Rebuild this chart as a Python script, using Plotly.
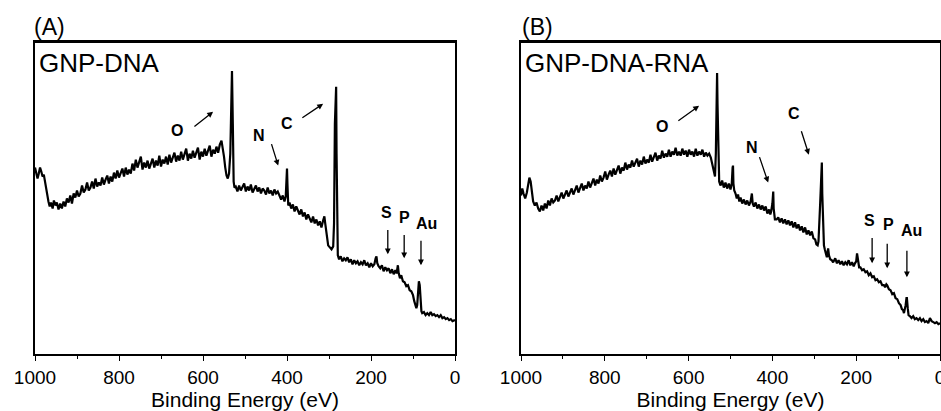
import plotly.graph_objects as go

# ---------------- Panel A : GNP-DNA  (binding energy eV, intensity a.u.) ----------------
spec_a = [
    (1000, 186), (997, 179), (994, 175), (991, 180), (988, 186), (985, 182), (982, 177), (979, 179),
    (976, 171), (972, 161), (968, 152), (965, 147), (962, 151), (958, 145), (955, 153), (951, 148),
    (948, 151), (944, 144), (940, 150), (936, 145), (932, 152), (928, 147),
    (924, 155), (920, 151), (916, 158), (912, 150), (908, 160), (904, 156), (900, 163), (896, 157),
    (892, 160), (888, 168), (884, 161), (880, 164), (876, 171), (872, 163), (868, 166), (864, 172),
    (860, 165), (856, 175), (852, 167), (848, 171), (844, 168), (840, 176), (836, 169), (832, 174),
    (828, 178), (824, 170), (820, 177), (816, 172), (812, 181), (808, 175), (804, 183), (800, 176),
    (796, 180), (792, 185), (788, 177), (784, 186), (780, 179), (776, 184), (772, 180), (768, 190),
    (764, 183), (760, 194), (756, 186), (752, 192), (748, 197), (744, 184), (740, 191), (736, 186),
    (732, 193), (728, 185), (724, 190), (720, 195), (716, 186), (712, 193), (708, 188), (704, 198),
    (700, 187), (696, 194), (692, 190), (688, 197), (684, 189), (680, 199), (676, 191), (672, 196),
    (668, 201), (664, 192), (660, 198), (656, 193), (652, 202), (648, 194), (644, 199), (640, 205),
    (636, 193), (632, 200), (628, 195), (624, 203), (620, 196), (616, 201), (612, 206), (608, 194),
    (604, 202), (600, 197), (596, 205), (592, 198), (588, 203), (584, 208), (580, 197), (576, 204),
    (572, 200), (568, 207), (564, 201), (560, 209), (556, 213), (553, 206), (550, 197), (547, 186),
    (544, 178), (541, 175), (538, 180), (535, 200), (533, 250), (531, 283), (529, 230), (527, 172),
    (525, 166), (522, 167), (518, 162), (514, 168), (510, 163), (506, 166), (502, 170), (498, 162),
    (494, 167), (490, 163), (486, 169), (482, 161), (478, 165), (474, 168), (470, 162), (466, 166),
    (462, 160), (458, 165), (454, 163), (450, 159), (446, 166), (442, 160), (438, 163), (434, 158),
    (430, 164), (426, 160), (422, 162), (418, 157), (414, 154), (410, 158), (406, 152), (403, 157),
    (401, 175), (400, 185), (399, 170), (397, 148), (394, 151), (390, 145), (386, 149), (382, 142),
    (378, 147), (374, 143), (370, 139), (366, 144), (362, 137), (358, 141), (354, 134), (350, 139),
    (346, 135), (342, 131), (338, 137), (334, 130), (330, 134), (326, 128), (322, 132), (318, 126),
    (314, 133), (311, 137), (309, 130), (306, 118), (302, 108), (298, 106), (294, 104), (290, 107),
    (288, 130), (286, 230), (284, 265), (283, 267), (282, 200), (281, 150), (279, 98), (276, 94),
    (272, 97), (268, 92), (264, 95), (260, 93), (256, 96), (252, 91), (248, 94), (244, 89),
    (240, 93), (236, 90), (232, 92), (228, 88), (224, 91), (220, 89), (216, 93), (212, 88),
    (208, 90), (204, 86), (200, 90), (196, 87), (192, 89), (189, 95), (187, 97), (185, 90),
    (182, 87), (178, 85), (174, 88), (170, 82), (166, 86), (162, 83), (158, 85), (154, 80),
    (150, 84), (146, 79), (142, 83), (139, 80), (136, 88), (134, 80), (131, 75), (128, 78),
    (124, 72), (120, 71), (116, 67), (112, 68), (108, 63), (104, 62), (100, 58), (97, 52),
    (94, 46), (92, 45), (90, 48), (88, 60), (86, 72), (84, 68), (82, 52), (80, 42),
    (78, 40), (74, 41), (70, 38), (66, 40), (62, 38), (58, 41), (54, 38), (50, 39),
    (46, 37), (42, 38), (38, 36), (34, 38), (30, 35), (26, 36), (22, 34), (18, 35),
    (14, 33), (10, 34), (6, 32), (2, 33), (0, 33),
]

# ---------------- Panel B : GNP-DNA-RNA ----------------
spec_b = [
    (1000, 158), (997, 165), (994, 160), (990, 155), (986, 161), (983, 168), (980, 176), (977, 172),
    (974, 160), (971, 152), (967, 148), (963, 151), (959, 145), (955, 142), (951, 148), (947, 143),
    (943, 150), (939, 145), (935, 153), (931, 148), (927, 155), (923, 151), (919, 153), (915, 158),
    (911, 152), (907, 156), (903, 161), (899, 155), (895, 159), (891, 163), (887, 157), (883, 161),
    (879, 165), (875, 159), (871, 163), (867, 168), (863, 161), (859, 166), (855, 170), (851, 163),
    (847, 168), (843, 165), (839, 172), (835, 166), (831, 171), (827, 175), (823, 168), (819, 174),
    (815, 170), (811, 178), (807, 172), (803, 176), (799, 182), (795, 174), (791, 179), (787, 183),
    (783, 177), (779, 185), (775, 179), (771, 183), (767, 188), (763, 180), (759, 186), (755, 183),
    (751, 191), (747, 184), (743, 189), (739, 186), (735, 193), (731, 187), (727, 191), (723, 195),
    (719, 187), (715, 193), (711, 189), (707, 197), (703, 190), (699, 194), (695, 191), (691, 199),
    (687, 192), (683, 196), (679, 201), (675, 193), (671, 198), (667, 195), (663, 203), (659, 196),
    (655, 200), (651, 197), (647, 204), (643, 197), (639, 202), (635, 199), (631, 206), (627, 198),
    (623, 202), (619, 198), (615, 205), (611, 199), (607, 203), (603, 197), (599, 204), (595, 199),
    (591, 202), (587, 197), (583, 205), (579, 198), (575, 202), (571, 199), (567, 204), (563, 197),
    (559, 201), (555, 198), (551, 200), (547, 196), (544, 190), (541, 184), (539, 179), (537, 177),
    (535, 200), (533, 260), (532, 281), (531, 250), (529, 190), (527, 172), (524, 168), (520, 173),
    (516, 166), (512, 171), (508, 165), (504, 170), (500, 164), (497, 170), (495, 186), (494, 188),
    (493, 170), (491, 163), (488, 160), (485, 155), (482, 159), (479, 152), (476, 156), (472, 150),
    (468, 154), (464, 149), (460, 153), (456, 148), (452, 152), (449, 160), (447, 150), (444, 147),
    (440, 151), (436, 145), (432, 149), (428, 144), (424, 148), (420, 143), (416, 147), (412, 140),
    (408, 144), (405, 139), (403, 142), (400, 150), (398, 162), (397, 145), (394, 134), (390, 134),
    (386, 136), (382, 131), (378, 135), (374, 130), (370, 134), (366, 129), (362, 133), (358, 128),
    (354, 132), (350, 126), (346, 131), (342, 125), (338, 129), (334, 123), (330, 127), (326, 121),
    (322, 126), (318, 119), (314, 123), (310, 118), (306, 122), (302, 115), (298, 114), (295, 109),
    (292, 108), (290, 112), (286, 150), (284, 185), (282, 191), (281, 160), (279, 120), (277, 108),
    (275, 104), (272, 98), (270, 96), (268, 102), (267, 105), (265, 98), (262, 94), (258, 93),
    (255, 91), (250, 95), (246, 90), (242, 93), (238, 89), (234, 92), (230, 88), (226, 91),
    (222, 89), (218, 93), (214, 88), (210, 91), (206, 87), (203, 90), (200, 92), (198, 100),
    (196, 92), (193, 86), (190, 86), (186, 83), (182, 84), (178, 81), (174, 82), (170, 78),
    (166, 80), (162, 76), (158, 77), (154, 73), (150, 74), (146, 71), (142, 72), (138, 68),
    (134, 68), (131, 66), (128, 69), (126, 68), (122, 64), (118, 63), (114, 59), (110, 60),
    (106, 55), (102, 54), (98, 50), (94, 48), (91, 44), (88, 43), (86, 40), (84, 43),
    (82, 48), (80, 55), (79, 55), (77, 45), (75, 38), (72, 37), (68, 35), (64, 37),
    (60, 34), (56, 35), (52, 33), (48, 35), (44, 32), (40, 34), (36, 31), (32, 32),
    (28, 30), (24, 35), (20, 32), (16, 31), (12, 30), (8, 31), (4, 29), (0, 30),
]

be_a = [p[0] for p in spec_a]
int_a = [p[1] for p in spec_a]
be_b = [p[0] for p in spec_b]
int_b = [p[1] for p in spec_b]

# ---------------- element labels and arrows (BE, intensity) ----------------
lab_a = ["O", "N", "C", "S", "P", "Au"]
lab_a_xy = [(662, 223), (467, 218), (400, 230), (162, 141), (121, 136), (69, 130)]
arr_a_tail = [(624, 226), (438, 211), (367, 235), (160, 125), (121, 120), (81, 114)]
arr_a_head = [(576, 242), (421, 188), (314, 250), (160, 99), (121, 95), (81, 88)]

lab_b = ["O", "N", "C", "S", "P", "Au"]
lab_b_xy = [(663, 227), (449, 206), (348, 240), (169, 133), (124, 129), (69, 123)]
arr_b_tail = [(628, 232), (432, 198), (332, 224), (162, 117), (126, 111), (79, 104)]
arr_b_head = [(575, 248), (410, 171), (313, 199), (162, 90), (126, 85), (79, 76)]

panel_tags = ["(A)", "(B)"]
sample_names = ["GNP-DNA", "GNP-DNA-RNA"]
x_title = "Binding Energy (eV)"

FONT = "Liberation Sans, Arial, sans-serif"
H, W = 411, 941

fig = go.Figure()
fig.add_trace(go.Scatter(x=be_a, y=int_a, mode="lines", line=dict(color="black", width=2.2),
                         xaxis="x", yaxis="y", showlegend=False))
fig.add_trace(go.Scatter(x=be_b, y=int_b, mode="lines", line=dict(color="black", width=2.2),
                         xaxis="x2", yaxis="y2", showlegend=False))

ydom = [1 - 354 / H, 1 - 42 / H]
xdomA = [35 / W, 455 / W]
xdomB = [521 / W, 940 / W]

xcommon = dict(range=[1000, 0], tickmode="linear", tick0=0, dtick=200, ticks="outside", ticklen=5,
               tickwidth=1.3, tickcolor="black", showline=True, linecolor="black", linewidth=1.5,
               mirror=True, showgrid=False, zeroline=False, automargin=False,
               ticklabeloverflow="allow",
               minor=dict(dtick=100, ticks="outside", ticklen=3, tickwidth=1.3, tickcolor="black"),
               tickfont=dict(family=FONT, size=19, color="black"),
               title=dict(text=x_title, font=dict(family=FONT, size=21, color="black"), standoff=4))
ycommon = dict(range=[-1, 312], showticklabels=False, ticks="", showline=True, linecolor="black",
               linewidth=1.5, mirror=True, showgrid=False, zeroline=False, automargin=False)

fig.update_layout(
    width=W, height=H, margin=dict(l=0, r=0, t=0, b=0, autoexpand=False),
    paper_bgcolor="white", plot_bgcolor="white",
    xaxis=dict(domain=xdomA, anchor="y", **xcommon),
    yaxis=dict(domain=ydom, anchor="x", **ycommon),
    xaxis2=dict(domain=xdomB, anchor="y2", **xcommon),
    yaxis2=dict(domain=ydom, anchor="x2", **ycommon),
)

# top edges of the two panel frames
shapes = []
for dom in [xdomA, xdomB]:
    shapes.append(dict(type="line", xref="paper", yref="paper", x0=dom[0], x1=dom[1],
                       y0=ydom[1], y1=ydom[1], line=dict(color="black", width=2), layer="above"))

ann = []
for (xr, yr, labs, lxy, tails, heads) in [("x", "y", lab_a, lab_a_xy, arr_a_tail, arr_a_head),
                                         ("x2", "y2", lab_b, lab_b_xy, arr_b_tail, arr_b_head)]:
    for t, (lx, ly) in zip(labs, lxy):
        ann.append(dict(x=lx, y=ly, xref=xr, yref=yr, text="<b>%s</b>" % t, showarrow=False,
                        font=dict(family=FONT, size=16, color="black")))
    for (tx, ty), (hx, hy) in zip(tails, heads):
        ann.append(dict(x=hx, y=hy, xref=xr, yref=yr, ax=tx, ay=ty, axref=xr, ayref=yr, text="",
                        showarrow=True, arrowhead=2, arrowsize=0.9, arrowwidth=1.3, arrowcolor="black"))

for tag, x0 in zip(panel_tags, [32 / W, 520 / W]):
    ann.append(dict(x=x0, y=1 - 27 / H, xref="paper", yref="paper", xanchor="left", yanchor="middle",
                    text=tag, showarrow=False, font=dict(family=FONT, size=23, color="black")))
for name, x0 in zip(sample_names, [37 / W, 523 / W]):
    ann.append(dict(x=x0, y=1 - 63 / H, xref="paper", yref="paper", xanchor="left", yanchor="middle",
                    text=name, showarrow=False, font=dict(family=FONT, size=26, color="black")))

fig.update_layout(annotations=ann, shapes=shapes)
fig.write_html("out.html")
